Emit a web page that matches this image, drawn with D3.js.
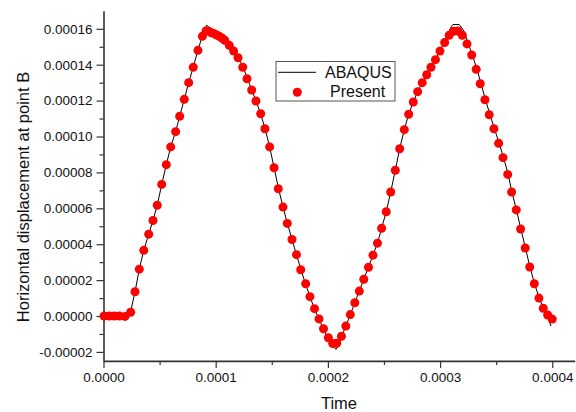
<!DOCTYPE html>
<html>
<head>
<meta charset="utf-8">
<script src="https://cdn.jsdelivr.net/npm/d3@7"></script>
<style>
  html, body { margin: 0; padding: 0; background: #fff; }
  svg { display: block; }
  text { font-family: "Liberation Sans", Arial, Helvetica, sans-serif; fill: #111; }
</style>
</head>
<body>
<svg id="chart" width="576" height="412"></svg>
<script>
// ---- Data ----
const presentTime = [0.005e-4,0.052e-4,0.096e-4,0.141e-4,0.192e-4,0.242e-4,0.281e-4,0.319e-4,0.359e-4,0.403e-4,
  0.441e-4,0.479e-4,0.519e-4,0.560e-4,0.599e-4,0.643e-4,0.679e-4,0.720e-4,0.759e-4,0.800e-4,
  0.842e-4,0.881e-4,0.914e-4,0.938e-4,0.961e-4,0.985e-4,1.009e-4,1.032e-4,1.056e-4,1.080e-4,
  1.121e-4,1.160e-4,1.199e-4,1.241e-4,1.279e-4,1.321e-4,1.359e-4,1.401e-4,1.439e-4,1.481e-4,
  1.520e-4,1.558e-4,1.600e-4,1.638e-4,1.680e-4,1.720e-4,1.758e-4,1.802e-4,1.840e-4,1.881e-4,
  1.921e-4,1.961e-4,2.004e-4,2.043e-4,2.079e-4,2.121e-4,2.160e-4,2.200e-4,2.240e-4,2.280e-4,
  2.320e-4,2.362e-4,2.402e-4,2.442e-4,2.479e-4,2.520e-4,2.560e-4,2.601e-4,2.640e-4,2.681e-4,
  2.720e-4,2.761e-4,2.800e-4,2.841e-4,2.881e-4,2.919e-4,2.959e-4,2.999e-4,3.041e-4,3.081e-4,
  3.118e-4,3.158e-4,3.198e-4,3.240e-4,3.282e-4,3.322e-4,3.358e-4,3.400e-4,3.438e-4,3.480e-4,
  3.522e-4,3.561e-4,3.603e-4,3.638e-4,3.679e-4,3.718e-4,3.759e-4,3.799e-4,3.840e-4,3.881e-4,
  3.920e-4,3.959e-4,4.000e-4];
const presentValue = [0,0,0,0,-0.02e-5,0.21e-5,1.35e-5,2.61e-5,3.66e-5,4.56e-5,
  5.32e-5,6.17e-5,7.33e-5,8.43e-5,9.42e-5,10.27e-5,11.13e-5,12.07e-5,13.0e-5,13.86e-5,
  14.80e-5,15.58e-5,15.88e-5,15.86e-5,15.78e-5,15.73e-5,15.65e-5,15.58e-5,15.49e-5,15.36e-5,
  15.08e-5,14.76e-5,14.39e-5,13.86e-5,13.22e-5,12.59e-5,11.98e-5,11.27e-5,10.43e-5,9.42e-5,
  8.26e-5,7.09e-5,6.07e-5,5.16e-5,4.26e-5,3.42e-5,2.58e-5,1.80e-5,1.08e-5,0.41e-5,
  -0.16e-5,-0.71e-5,-1.21e-5,-1.53e-5,-1.52e-5,-1.13e-5,-0.56e-5,0.08e-5,0.74e-5,1.39e-5,
  2.05e-5,2.72e-5,3.39e-5,4.06e-5,4.89e-5,5.81e-5,6.91e-5,8.12e-5,9.32e-5,10.38e-5,
  11.24e-5,11.92e-5,12.50e-5,13.0e-5,13.44e-5,13.86e-5,14.28e-5,14.76e-5,15.24e-5,15.64e-5,
  15.86e-5,15.88e-5,15.64e-5,15.16e-5,14.54e-5,13.74e-5,12.94e-5,12.05e-5,11.21e-5,10.43e-5,
  9.62e-5,8.82e-5,7.89e-5,6.91e-5,5.91e-5,4.85e-5,3.79e-5,2.73e-5,1.80e-5,1.00e-5,
  0.43e-5,0.06e-5,-0.17e-5];

const abaqusTime = [0,0.215e-4,0.242e-4,0.281e-4,0.319e-4,0.359e-4,0.403e-4,0.441e-4,0.479e-4,0.519e-4,
  0.560e-4,0.599e-4,0.643e-4,0.679e-4,0.720e-4,0.759e-4,0.800e-4,0.842e-4,0.881e-4,0.920e-4,
  0.960e-4,1.010e-4,1.060e-4,1.100e-4,1.160e-4,1.200e-4,1.240e-4,1.280e-4,1.320e-4,1.360e-4,
  1.400e-4,1.440e-4,1.480e-4,1.520e-4,1.560e-4,1.600e-4,1.640e-4,1.680e-4,1.720e-4,1.760e-4,
  1.800e-4,1.840e-4,1.880e-4,1.920e-4,1.960e-4,2.000e-4,2.040e-4,2.072e-4,2.100e-4,2.120e-4,
  2.160e-4,2.200e-4,2.240e-4,2.280e-4,2.320e-4,2.362e-4,2.402e-4,2.442e-4,2.479e-4,2.520e-4,
  2.560e-4,2.601e-4,2.640e-4,2.681e-4,2.720e-4,2.761e-4,2.800e-4,2.841e-4,2.881e-4,2.919e-4,
  2.959e-4,2.999e-4,3.041e-4,3.080e-4,3.100e-4,3.115e-4,3.170e-4,3.188e-4,3.215e-4,3.250e-4,
  3.290e-4,3.330e-4,3.365e-4,3.405e-4,3.445e-4,3.485e-4,3.527e-4,3.566e-4,3.605e-4,3.640e-4,
  3.681e-4,3.720e-4,3.761e-4,3.801e-4,3.842e-4,3.883e-4,3.922e-4,3.960e-4,3.989e-4];
const abaqusValue = [0,0,0.25e-5,1.35e-5,2.61e-5,3.66e-5,4.56e-5,5.32e-5,6.17e-5,7.33e-5,
  8.43e-5,9.42e-5,10.27e-5,11.13e-5,12.07e-5,13.0e-5,13.86e-5,14.80e-5,15.62e-5,16.2e-5,
  15.98e-5,15.82e-5,15.62e-5,15.38e-5,14.85e-5,14.45e-5,13.92e-5,13.28e-5,12.62e-5,11.98e-5,
  11.28e-5,10.43e-5,9.45e-5,8.28e-5,7.1e-5,6.07e-5,5.14e-5,4.26e-5,3.42e-5,2.58e-5,
  1.80e-5,1.08e-5,0.41e-5,-0.16e-5,-0.72e-5,-1.22e-5,-1.62e-5,-1.86e-5,-1.62e-5,-1.18e-5,
  -0.56e-5,0.08e-5,0.74e-5,1.39e-5,2.05e-5,2.72e-5,3.39e-5,4.06e-5,4.89e-5,5.81e-5,
  6.91e-5,8.12e-5,9.32e-5,10.38e-5,11.24e-5,11.92e-5,12.50e-5,13.0e-5,13.44e-5,13.86e-5,
  14.28e-5,14.76e-5,15.3e-5,15.85e-5,16.12e-5,16.24e-5,16.24e-5,16.1e-5,15.85e-5,15.2e-5,
  14.5e-5,13.72e-5,12.94e-5,12.05e-5,11.21e-5,10.43e-5,9.62e-5,8.82e-5,7.95e-5,6.91e-5,
  5.91e-5,4.85e-5,3.79e-5,2.73e-5,1.80e-5,1.00e-5,0.43e-5,-0.1e-5,-0.56e-5];

const xTickValues = [0, 0.0001, 0.0002, 0.0003, 0.0004];
const xTickLabels = ["0.0000", "0.0001", "0.0002", "0.0003", "0.0004"];
const xMinorTicks = [0.00005, 0.00015, 0.00025, 0.00035];
const yTickValues = [-0.00002, 0, 0.00002, 0.00004, 0.00006, 0.00008, 0.00010, 0.00012, 0.00014, 0.00016];
const yTickLabels = ["-0.00002", "0.00000", "0.00002", "0.00004", "0.00006", "0.00008", "0.00010", "0.00012", "0.00014", "0.00016"];
const yMinorTicks = [-0.00001, 0.00001, 0.00003, 0.00005, 0.00007, 0.00009, 0.00011, 0.00013, 0.00015];
const seriesNames = ["ABAQUS", "Present"];

// ---- Layout ----
const svg = d3.select("#chart");
svg.append("rect").attr("width", 576).attr("height", 412).attr("fill", "#fff");

const x = d3.scaleLinear().domain([0, 0.00042]).range([103.5, 574.7]);
const y = d3.scaleLinear().domain([-0.000025, 0.00017]).range([360.9, 10.85]);

const axisColor = "#333";

// minor ticks
const gxMinor = svg.append("g").attr("transform", `translate(0,${y(-0.000025)})`)
  .call(d3.axisBottom(x).tickValues(xMinorTicks).tickSize(4).tickFormat(""));
const gyMinor = svg.append("g").attr("transform", `translate(${x(0)},0)`)
  .call(d3.axisLeft(y).tickValues(yMinorTicks).tickSize(4).tickFormat(""));
[gxMinor, gyMinor].forEach(g => {
  g.select(".domain").remove();
  g.selectAll("line").attr("stroke", axisColor).attr("stroke-width", 1.2);
});

const gx = svg.append("g").attr("transform", `translate(0,${y(-0.000025)})`)
  .call(d3.axisBottom(x).tickValues(xTickValues).tickSize(7).tickSizeOuter(0)
    .tickFormat((d, i) => xTickLabels[i]).tickPadding(5));
const gy = svg.append("g").attr("transform", `translate(${x(0)},0)`)
  .call(d3.axisLeft(y).tickValues(yTickValues).tickSize(7).tickSizeOuter(0)
    .tickFormat((d, i) => yTickLabels[i]).tickPadding(4));
[gx, gy].forEach(g => {
  g.select(".domain").attr("stroke", axisColor).attr("stroke-width", 1.6);
  g.selectAll(".tick line").attr("stroke", axisColor).attr("stroke-width", 1.2);
  g.selectAll(".tick text").attr("font-size", 13.5)
    .attr("font-family", "'Liberation Sans', Arial, Helvetica, sans-serif").attr("fill", "#111");
});

// axis titles
svg.append("text").attr("x", 339).attr("y", 408.5).attr("text-anchor", "middle")
  .attr("font-size", 16.5).text("Time");
svg.append("text").attr("transform", "translate(28.5,197) rotate(-90)")
  .attr("text-anchor", "middle").attr("font-size", 16.5)
  .text("Horizontal displacement at point B");

// ABAQUS line
const lineData = abaqusTime.map((t, i) => [t, abaqusValue[i]]);
svg.append("path").datum(lineData)
  .attr("fill", "none").attr("stroke", "#000").attr("stroke-width", 1)
  .attr("d", d3.line().x(d => x(d[0])).y(d => y(d[1])));

// Present dots
const dotData = presentTime.map((t, i) => [t, presentValue[i]]);
svg.append("g").selectAll("circle").data(dotData).join("circle")
  .attr("cx", d => x(d[0])).attr("cy", d => y(d[1])).attr("r", 4.5)
  .attr("fill", "#ff0000");

// Legend
const lg = svg.append("g");
lg.append("rect").attr("x", 276).attr("y", 61.5).attr("width", 119).attr("height", 39.5)
  .attr("fill", "#fff").attr("stroke", "#555").attr("stroke-width", 1);
lg.append("line").attr("x1", 278).attr("x2", 316).attr("y1", 72.3).attr("y2", 72.3)
  .attr("stroke", "#000").attr("stroke-width", 1);
lg.append("text").attr("x", 325).attr("y", 77.5).attr("font-size", 16).text(seriesNames[0]);
lg.append("circle").attr("cx", 297.3).attr("cy", 92.3).attr("r", 4.5).attr("fill", "#ff0000");
lg.append("text").attr("x", 330).attr("y", 97).attr("font-size", 16).text(seriesNames[1]);
</script>
</body>
</html>
